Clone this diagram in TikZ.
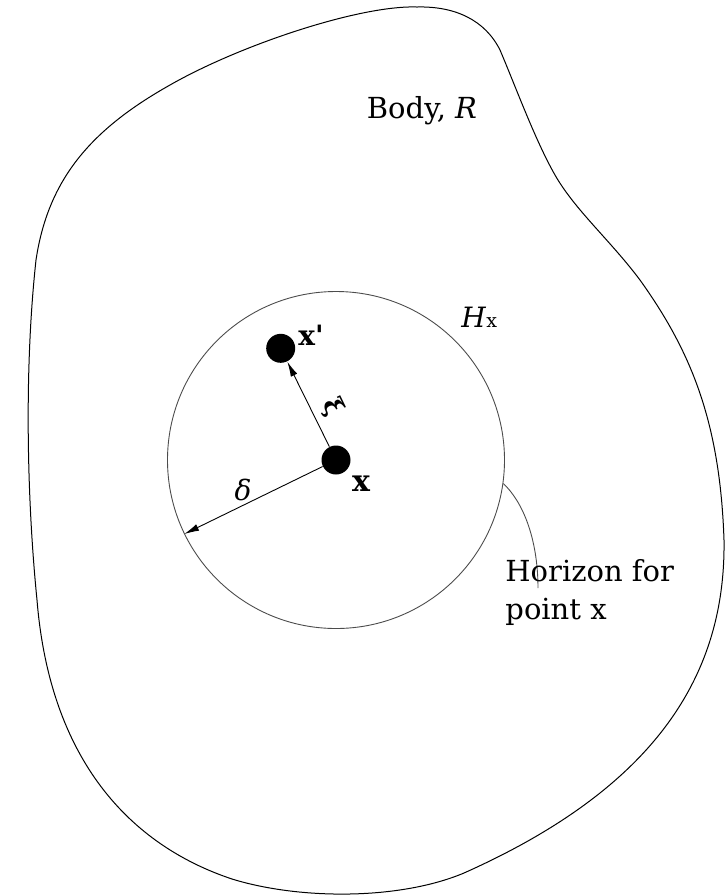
\documentclass[tikz,border=0pt]{standalone}
\usepackage{fontspec}
\setmainfont{DejaVu Serif}
\usetikzlibrary{arrows.meta}

\begin{document}
\begin{tikzpicture}[x=0.5pt,y=-0.5pt,line width=0.45pt,
  every node/.style={inner sep=0pt,font=\fontsize{14.5pt}{19pt}\selectfont},
  dot/.style={circle,fill=black,minimum size=14.5pt},
  tip/.style={-{Latex[length=7.5pt,width=3.5pt]}},
  veclbl/.style={font=\bfseries\fontsize{14pt}{14pt}\selectfont}]
  \useasboundingbox (0,0) rectangle (725,896);
  % outline of the body
  \draw[line width=0.5pt] (417,7)
    .. controls (455,6) and (485,20) .. (500,50)
    .. controls (515,85) and (535,140) .. (555,175)
    .. controls (575,210) and (610,240) .. (640,280)
    .. controls (690,350) and (720,420) .. (724,540)
    .. controls (726,680) and (650,790) .. (464,873)
    .. controls (400,900) and (300,900) .. (232,879)
    .. controls (130,845) and (50,760) .. (37,600)
    .. controls (27,500) and (24,370) .. (36,260)
    .. controls (48,180) and (90,130) .. (170,85)
    .. controls (240,45) and (360,5) .. cycle;
  % horizon and points
  \node[circle,draw=black!70,minimum size=168.5pt] (hz) at (336,460) {};
  \node[dot] (xc) at (336,460) {};
  \node[dot] (xp) at (280.7,348.3) {};
  \draw[tip] (xc) -- (xp);
  \draw[tip] (xc) -- (hz.206);
  \coordinate (lead) at (538,588);
  \draw[draw=black!70] (hz.-8) .. controls (526,505) and (538,545) .. (lead);
  % labels
  \node[veclbl] (xplbl) at (311,335) {x\textquotesingle};
  \node[veclbl,font=\bfseries\fontsize{15pt}{15pt}\selectfont] (xclbl) at (361,484) {x};
  \node[veclbl,font=\bfseries\fontsize{13pt}{13pt}\selectfont,rotate=-64] (xilbl) at (332,407) {ξ};
  \node[font=\itshape\fontsize{14pt}{14pt}\selectfont] (dlbl) at (243,490) {δ};
  \node[anchor=base west] (hlbl) at (461,327) {\fontsize{14pt}{14pt}\selectfont\textit{H}\fontsize{9.5pt}{9.5pt}\selectfont x};
  \node[anchor=base] (body) at (422,118) {Body, \textit{R}};
  \node[align=left,anchor=base west] (hzlbl) at (505,619) {Horizon for\\point x};
\end{tikzpicture}
\end{document}
